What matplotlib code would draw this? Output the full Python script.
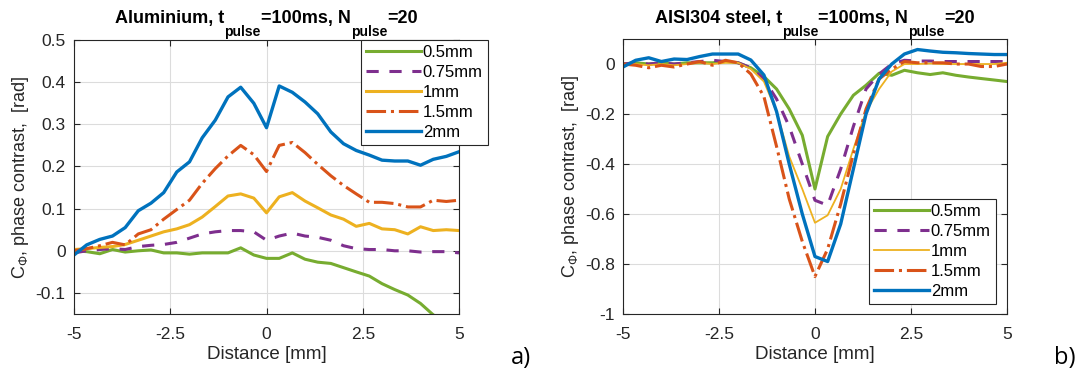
import matplotlib
matplotlib.use("Agg")
import matplotlib.pyplot as plt

plt.rcParams["font.family"] = ["Liberation Sans", "DejaVu Sans"]
plt.rcParams["mathtext.fontset"] = "custom"
plt.rcParams["mathtext.rm"] = "Liberation Sans"
plt.rcParams["mathtext.it"] = "Liberation Sans"
plt.rcParams["axes.unicode_minus"] = False

# distance along the profile [mm]
distance = [-5.0, -4.67, -4.33, -4.0, -3.67, -3.33, -3.0, -2.67, -2.33, -2.0, -1.67,
            -1.33, -1.0, -0.67, -0.33, 0.0, 0.33, 0.67, 1.0, 1.33, 1.67,
            2.0, 2.33, 2.67, 3.0, 3.33, 3.67, 4.0, 4.33, 4.67, 5.0]

labels = ["0.5mm", "0.75mm", "1mm", "1.5mm", "2mm"]

# a) Aluminium
al_05 = [0.000, -0.002, -0.007, 0.003, -0.003, 0.000, 0.002, -0.005, -0.005, -0.008, -0.005,
         -0.005, -0.005, 0.007, -0.010, -0.018, -0.018, -0.005, -0.020, -0.027, -0.030,
         -0.040, -0.050, -0.060, -0.078, -0.092, -0.105, -0.125, -0.152, -0.170, -0.190]
al_075 = [-0.005, 0.000, 0.003, 0.005, 0.003, 0.010, 0.013, 0.015, 0.020, 0.030, 0.040,
          0.045, 0.048, 0.048, 0.045, 0.025, 0.035, 0.042, 0.035, 0.032, 0.025,
          0.012, 0.005, 0.003, 0.003, 0.000, 0.000, -0.003, -0.002, -0.002, -0.005]
al_1 = [0.003, 0.005, 0.008, 0.010, 0.015, 0.025, 0.035, 0.045, 0.052, 0.062, 0.080,
        0.105, 0.130, 0.135, 0.125, 0.090, 0.128, 0.138, 0.118, 0.102, 0.085,
        0.075, 0.058, 0.065, 0.052, 0.050, 0.040, 0.057, 0.048, 0.050, 0.048]
al_15 = [0.000, 0.005, 0.012, 0.020, 0.014, 0.040, 0.050, 0.075, 0.098, 0.120, 0.160,
         0.195, 0.225, 0.250, 0.228, 0.188, 0.250, 0.257, 0.233, 0.205, 0.178,
         0.155, 0.135, 0.115, 0.115, 0.112, 0.104, 0.104, 0.120, 0.117, 0.120]
al_2 = [-0.010, 0.014, 0.027, 0.035, 0.055, 0.095, 0.113, 0.138, 0.187, 0.211, 0.268,
        0.310, 0.365, 0.388, 0.350, 0.292, 0.391, 0.376, 0.353, 0.325, 0.282,
        0.254, 0.238, 0.227, 0.215, 0.213, 0.213, 0.203, 0.217, 0.224, 0.235]

# b) AISI304 steel
st_05 = [0.000, 0.005, 0.000, 0.005, 0.000, 0.005, 0.005, 0.005, 0.010, 0.005, -0.015,
         -0.050, -0.100, -0.180, -0.285, -0.500, -0.290, -0.200, -0.125, -0.085, -0.037,
         -0.045, -0.025, -0.035, -0.042, -0.035, -0.045, -0.052, -0.058, -0.064, -0.070]
st_075 = [0.000, 0.005, 0.000, 0.005, 0.000, 0.005, 0.010, 0.015, 0.010, 0.005, -0.015,
          -0.060, -0.140, -0.250, -0.400, -0.545, -0.565, -0.420, -0.250, -0.100, -0.040,
          0.000, 0.015, 0.012, 0.012, 0.010, 0.010, 0.010, 0.010, 0.010, 0.010]
st_1 = [0.000, 0.000, -0.005, 0.000, -0.005, 0.000, 0.005, 0.000, 0.005, 0.005, -0.020,
        -0.070, -0.190, -0.370, -0.500, -0.635, -0.605, -0.500, -0.340, -0.190, -0.100,
        -0.030, 0.000, 0.000, 0.002, 0.000, 0.000, 0.000, 0.000, 0.000, 0.005]
st_15 = [0.000, -0.005, -0.015, -0.005, -0.012, 0.000, 0.010, -0.005, 0.015, 0.005, -0.040,
         -0.130, -0.330, -0.540, -0.710, -0.850, -0.740, -0.560, -0.360, -0.180, -0.060,
         -0.020, 0.010, 0.005, 0.005, 0.005, 0.000, 0.000, -0.010, -0.010, 0.000]
st_2 = [-0.012, 0.015, 0.025, 0.010, 0.020, 0.018, 0.030, 0.040, 0.040, 0.040, 0.016,
        -0.044, -0.190, -0.400, -0.600, -0.770, -0.790, -0.640, -0.420, -0.200, -0.060,
        0.000, 0.040, 0.058, 0.052, 0.047, 0.045, 0.042, 0.040, 0.038, 0.038]

colors = ["#77AC30", "#7E2F8E", "#EDB120", "#D95319", "#0072BD"]
styles = ["-", (0, (4, 3.5)), "-", "-.", "-"]

fig = plt.figure(figsize=(10.88, 3.71), dpi=100)
ax1 = fig.add_axes([0.068, 0.1536, 0.3539, 0.7385])
ax2 = fig.add_axes([0.5726, 0.1536, 0.3529, 0.7412])
W, H = fig.bbox.width, fig.bbox.height

title_texts = []


def title_pieces(ax, material):
    # title with large subscripts, laid out piece by piece after a first draw
    pieces = [(material + ", t", 13, 0), ("pulse", 10, -13), ("=100ms, N", 13, 0),
              ("pulse", 10, -13), ("=20", 13, 0)]
    texts = []
    for s, size, dy in pieces:
        t = fig.text(0, 0, s, fontsize=size, fontweight="bold", color="black")
        texts.append((t, dy))
    title_texts.append((ax, texts))


def place_titles():
    fig.canvas.draw()
    for ax, texts in title_texts:
        widths = [t.get_window_extent().width for t, _ in texts]
        bb = ax.get_window_extent()
        x = (bb.x0 + bb.x1) / 2 - sum(widths) / 2
        y = H - 23
        for (t, dy), w in zip(texts, widths):
            t.set_position((x / W, (y + dy) / H))
            x += w


def draw(ax, series, widths, ylim, yticks, material, legend_pos):
    for vals, c, ls, lw, lab in zip(series, colors, styles, widths, labels):
        ax.plot(distance, vals, color=c, linestyle=ls, linewidth=lw, label=lab)
    ax.set_xlim(-5, 5)
    ax.set_ylim(*ylim)
    ax.set_xticks([-5, -2.5, 0, 2.5, 5])
    ax.set_xticklabels(["-5", "-2.5", "0", "2.5", "5"])
    ax.set_yticks(yticks)
    ax.set_yticklabels(["%g" % round(t, 2) for t in yticks])
    ax.grid(True, color="#dcdcdc", linewidth=0.8)
    ax.set_axisbelow(True)
    ax.tick_params(direction="in", top=True, right=True, length=4, width=0.8,
                   labelsize=12.5, colors="#262626")
    ax.tick_params(axis="x", pad=9)
    ax.tick_params(axis="y", pad=6)
    for s in ax.spines.values():
        s.set_color("#262626")
        s.set_linewidth(0.8)
    ax.set_xlabel("Distance [mm]", fontsize=13.5, color="#262626", labelpad=3)
    ax.set_ylabel(r"C$_{\Phi}$, phase contrast,  [rad]", fontsize=13, color="#262626", labelpad=3)
    title_pieces(ax, material)
    leg = ax.legend(loc="upper left", bbox_to_anchor=legend_pos, bbox_transform=fig.transFigure,
                    fontsize=12, handlelength=3.3, handletextpad=0.1, labelspacing=0.3,
                    borderpad=0.3, borderaxespad=0, fancybox=False, framealpha=1,
                    edgecolor="#262626")
    leg.get_frame().set_linewidth(0.8)


draw(ax1, [al_05, al_075, al_1, al_15, al_2], [2.2, 2.2, 2.2, 2.2, 2.4],
     (-0.15, 0.5), [-0.1, 0, 0.1, 0.2, 0.3, 0.4, 0.5], "Aluminium", (0.3318, 0.8922))
draw(ax2, [st_05, st_075, st_1, st_15, st_2], [2.2, 2.2, 1.3, 2.2, 2.4],
     (-1, 0.1), [-1, -0.8, -0.6, -0.4, -0.2, 0], "AISI304 steel", (0.7987, 0.4636))

fig.text(0.470, 0.018, "a)", fontsize=17, family=["Open Sans", "DejaVu Sans"])
fig.text(0.969, 0.018, "b)", fontsize=17, family=["Open Sans", "DejaVu Sans"])

place_titles()
fig.savefig("out.png", dpi=100)
